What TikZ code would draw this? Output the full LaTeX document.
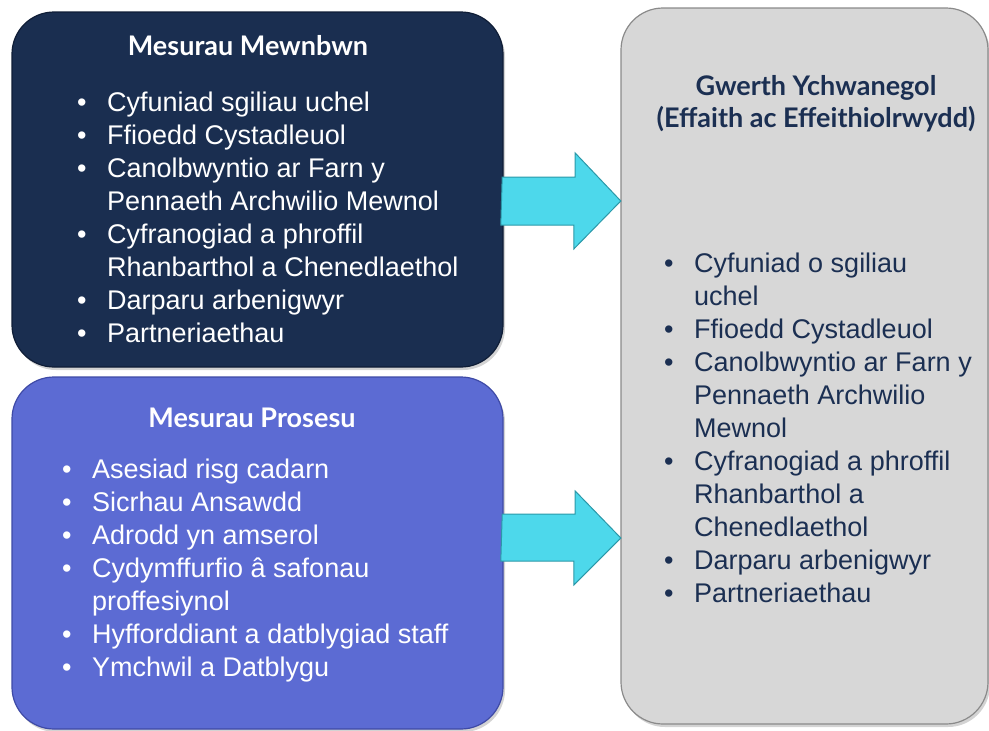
\documentclass[tikz,border=0pt]{standalone}
\usepackage{fontspec}
\setmainfont{Liberation Sans}
\newfontfamily\titlefont{Lato}
\usetikzlibrary{calc,shadows}
\definecolor{navy}{HTML}{1A2E50}
\definecolor{navyedge}{HTML}{0F1D36}
\definecolor{purp}{HTML}{5C6BD3}
\definecolor{purpedge}{HTML}{3E4AA6}
\definecolor{greybox}{HTML}{D7D7D7}
\definecolor{greyedge}{HTML}{8A8A8A}
\definecolor{cyanarrow}{HTML}{4DD8EB}
\definecolor{cyanedge}{HTML}{2B98A8}
\definecolor{titlenavy}{HTML}{1B2F52}
\newcommand{\bitem}[1]{\makebox[30pt][l]{\textbullet}#1}
\newcommand{\bcont}[1]{\hspace*{30pt}#1}
\newcommand{\toplist}[1]{\parbox[t]{420pt}{\raggedright #1}}
\newcommand{\toptitle}[1]{\parbox[t]{400pt}{\centering #1}}
\begin{document}
\begin{tikzpicture}[x=1pt,y=-1pt,
  box/.style={rounded corners=42pt, line width=1.2pt, drop shadow={shadow xshift=2pt,shadow yshift=-3pt,opacity=0.35}},
  boxtitle/.style={font=\titlefont\bfseries\fontsize{27}{32}\selectfont, inner sep=0pt, anchor=base},
  blist/.style={font=\fontsize{27}{33}\selectfont, anchor=base west, inner sep=0pt},
  blockarrow/.style={fill=cyanarrow, draw=cyanedge, line width=1pt, line join=miter}]
\useasboundingbox (0,0) rectangle (989,731);
% boxes
\path[box, fill=navy, draw=navyedge] (12,12) rectangle (503,367);
\node[inner sep=0pt, minimum width=491pt, minimum height=355pt] (b1) at (257.5,189.5) {};
\path[box, fill=purp, draw=purpedge] (12,377) rectangle (503,729);
\node[inner sep=0pt, minimum width=491pt, minimum height=352pt] (b2) at (257.5,553) {};
\path[box, fill=greybox, draw=greyedge] (621,8) rectangle (988,724);
\node[inner sep=0pt, minimum width=367pt, minimum height=716pt] (b3) at (804.5,366) {};
% titles
\node[boxtitle, text=white] (t1) at (248,55) {Mesurau Mewnbwn};
\node[boxtitle, text=white] (t2) at (252,427) {Mesurau Prosesu};
\node[boxtitle, text=titlenavy] (t3) at (816,95) {\toptitle{Gwerth Ychwanegol\\(Effaith ac Effeithiolrwydd)}};
% lists
\node[blist, text=white] (l1) at (77,111) {\toplist{%
\bitem{Cyfuniad sgiliau uchel}\\
\bitem{Ffioedd Cystadleuol}\\
\bitem{Canolbwyntio ar Farn y}\\
\bcont{Pennaeth Archwilio Mewnol}\\
\bitem{Cyfranogiad a phroffil}\\
\bcont{Rhanbarthol a Chenedlaethol}\\
\bitem{Darparu arbenigwyr}\\
\bitem{Partneriaethau}}};
\node[blist, text=white] (l2) at (62,478) {\toplist{%
\bitem{Asesiad risg cadarn}\\
\bitem{Sicrhau Ansawdd}\\
\bitem{Adrodd yn amserol}\\
\bitem{Cydymffurfio â safonau}\\
\bcont{proffesiynol}\\
\bitem{Hyfforddiant a datblygiad staff}\\
\bitem{Ymchwil a Datblygu}}};
\node[blist, text=titlenavy] (l3) at (664,272) {\toplist{%
\bitem{Cyfuniad o sgiliau}\\
\bcont{uchel}\\
\bitem{Ffioedd Cystadleuol}\\
\bitem{Canolbwyntio ar Farn y}\\
\bcont{Pennaeth Archwilio}\\
\bcont{Mewnol}\\
\bitem{Cyfranogiad a phroffil}\\
\bcont{Rhanbarthol a}\\
\bcont{Chenedlaethol}\\
\bitem{Darparu arbenigwyr}\\
\bitem{Partneriaethau}}};
% arrows
\coordinate (m1) at (562,201);
\coordinate (m2) at (562,538);
\draw[blockarrow] (b1.east |- m1) ++(-1,-24) -- ++(73,0) -- ++(0,-24) -- (b3.west |- m1) -- ++(-47,48) -- ++(0,-24) -- ++(-73,0) -- cycle;
\draw[blockarrow] (b2.east |- m2) ++(-1,-24) -- ++(73,0) -- ++(0,-23) -- (b3.west |- m2) -- ++(-47,47) -- ++(0,-24) -- ++(-73,0) -- cycle;
\end{tikzpicture}
\end{document}
